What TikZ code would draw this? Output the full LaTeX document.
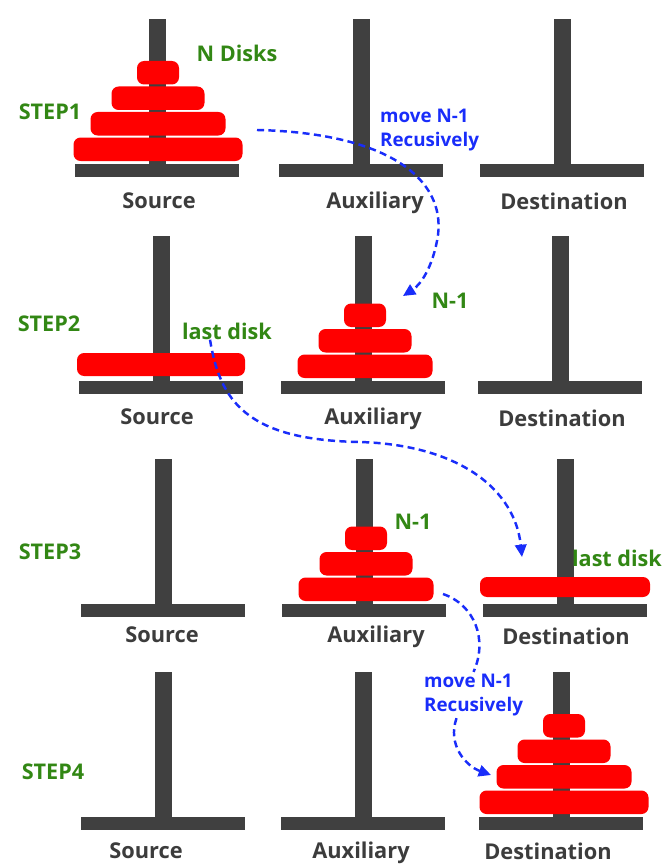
\documentclass[tikz,border=0pt]{standalone}
\usepackage{fontspec}
\setmainfont{Open Sans}
\usetikzlibrary{arrows.meta, positioning}
\definecolor{polegray}{RGB}{64,64,64}
\definecolor{labelgray}{RGB}{60,60,60}
\definecolor{stepgreen}{RGB}{50,135,20}
\definecolor{moveblue}{RGB}{25,45,250}
\definecolor{diskred}{RGB}{255,0,0}

\tikzset{
    pole/.style={fill=polegray},
    disk/.style={fill=diskred, rounded corners=4pt},
    pegname/.style={text=labelgray, font=\bfseries\fontsize{12.4}{14}\selectfont, text height=0.72em, text depth=0pt, inner sep=0pt},
    steplabel/.style={text=stepgreen, font=\bfseries\fontsize{12.3}{14}\selectfont, text height=0.72em, text depth=0pt, inner sep=0pt},
    movenote/.style={text=moveblue, font=\bfseries\fontsize{10.7}{13.7}\selectfont, align=left, inner sep=1pt},
    movearrow/.style={draw=moveblue, line width=1.4pt, dash pattern=on 4pt off 2.5pt, -{Triangle[length=7pt,width=6.5pt]}},
}

% three pegs of one row, base top at local y=0
\newcommand{\pegrow}[3]{
    \foreach \px in {#1,#2,#3}{
        \fill[pole] (\px-8.5,-145) rectangle (\px+8.5,13);
        \fill[pole] (\px-82,0) rectangle (\px+82,13);
    }
}
% a stack of disks, widths from the bottom up
\newcommand{\diskstack}[2]{
    \foreach \w [count=\i] in {#2}{
        \fill[disk] (#1-\w/2,{-3-25.5*(\i-1)}) rectangle (#1+\w/2,{-26.5-25.5*(\i-1)});
    }
}

\begin{document}
\begin{tikzpicture}[x=0.02cm, y=-0.02cm]
\useasboundingbox (0,0) rectangle (665,865);

% step 1
\begin{scope}[shift={(0,164)}]
    \pegrow{157}{361}{562}
    \diskstack{158}{169,135,93,42}
    \node[steplabel] (step1) at (50,-51) {STEP1};
    \node[steplabel] (ndisks) at (237,-109) {N Disks};
    \node[pegname] (src1) at (159,38) {Source};
    \node[pegname] (aux1) at (375,38) {Auxiliary};
    \node[pegname] (dst1) at (564,39) {Destination};
    \node[movenote, anchor=west] (move1) at (378,-34) {move N-1\\Recusively};
    \coordinate (a1s) at (257,-34);
\end{scope}

% step 2
\begin{scope}[shift={(0,381)}]
    \pegrow{161}{363}{560}
    \fill[disk] (77,-5) rectangle (245,-28);
    \diskstack{365}{135,93,42}
    \node[steplabel] (step2) at (49,-56) {STEP2};
    \node[steplabel] (lastA) at (227,-48) {last disk};
    \node[steplabel] (nminA) at (450,-79) {N-1};
    \node[pegname] (src2) at (157,37) {Source};
    \node[pegname] (aux2) at (373,37) {Auxiliary};
    \node[pegname] (dst2) at (562,39) {Destination};
    \coordinate (a1e) at (403,-85);
\end{scope}

% step 3
\begin{scope}[shift={(0,604)}]
    \pegrow{163}{364}{565}
    \diskstack{366}{135,93,42}
    \fill[disk] (480,-7) rectangle (650,-27);
    \node[steplabel] (step3) at (50,-51) {STEP3};
    \node[steplabel] (nminB) at (413,-81) {N-1};
    \node[steplabel] (lastB) at (617,-44) {last disk};
    \node[pegname] (src3) at (162,32) {Source};
    \node[pegname] (aux3) at (376,32) {Auxiliary};
    \node[pegname] (dst3) at (566,34) {Destination};
    \coordinate (a2e) at (522,-47);
    \coordinate (a3s) at (443,-10);
\end{scope}

% step 4
\begin{scope}[shift={(0,817)}]
    \pegrow{163}{363}{561}
    \diskstack{564}{169,135,93,42}
    \node[steplabel] (step4) at (53,-44) {STEP4};
    \node[movenote, anchor=west] (move2) at (422,-122) {move N-1\\Recusively};
    \node[pegname] (src4) at (146,35) {Source};
    \node[pegname] (aux4) at (361,35) {Auxiliary};
    \node[pegname] (dst4) at (548,36) {Destination};
    \coordinate (a4e) at (491,-42);
\end{scope}

% moves
\draw[movearrow] (a1s) .. controls (390,133) and (445,180) .. (438,235)
    .. controls (433,268) and (420,285) .. (a1e);
\draw[movearrow] ([xshift=-0.34cm]lastA.south) .. controls (220,400) and (245,440) .. (360,442)
    .. controls (460,445) and (515,490) .. (a2e);
\draw[movearrow, -] (a3s) .. controls (475,605) and (488,640) .. (move2.north);
\draw[movearrow] ([xshift=-0.34cm]move2.south) .. controls (447,745) and (466,766) .. (a4e);

\end{tikzpicture}
\end{document}
